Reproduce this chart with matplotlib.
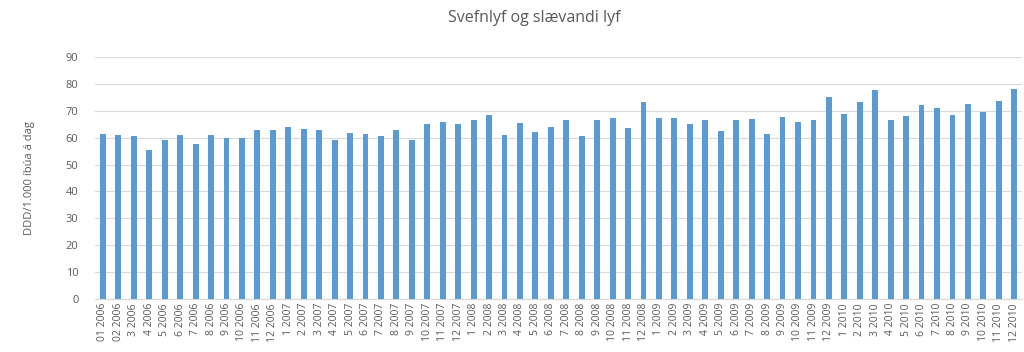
import matplotlib
matplotlib.use("Agg")
import matplotlib.pyplot as plt

plt.rcParams['font.family'] = ['Open Sans', 'DejaVu Sans']

# month labels as they appear on the axis
labels = (["01 2006", "02 2006"] + [f"{m} 2006" for m in range(3, 13)]
          + [f"{m} {y}" for y in (2007, 2008, 2009, 2010) for m in range(1, 13)])

# DDD/1.000 ibua a dag
values = [61.5, 60.8, 60.7, 55.4, 59.3, 61.0, 57.5, 61.0, 59.7, 59.7, 62.8, 62.8,
          63.9, 63.1, 62.8, 59.3, 61.7, 61.3, 60.7, 62.9, 59.3, 64.9, 66.0, 64.9,
          66.7, 68.5, 60.9, 65.6, 62.0, 63.9, 66.4, 60.7, 66.7, 67.3, 63.5, 73.4,
          67.3, 67.3, 65.2, 66.7, 62.4, 66.7, 67.1, 61.3, 67.5, 65.7, 66.7, 75.3,
          68.8, 73.2, 77.7, 66.7, 68.1, 72.0, 70.9, 68.5, 72.4, 69.7, 73.5, 78.0]

txt = "#595959"

fig = plt.figure(figsize=(10.24, 3.52), dpi=100)
ax = fig.add_axes([0.093, 0.151, 0.905, 0.687])

ax.bar(range(len(values)), values, width=0.38, color="#5B9BD5", zorder=3)

ax.set_xlim(-0.5, len(values) - 0.5)
ax.set_ylim(0, 90)
ax.set_yticks(range(0, 91, 10))
ax.set_xticks(range(len(labels)))
ax.set_xticklabels(labels, rotation=90, fontsize=7.5, color=txt)
ax.tick_params(axis="y", labelsize=8, colors=txt, length=0, pad=12)
ax.tick_params(axis="x", length=0, pad=3)
ax.grid(axis="y", color="#D9D9D9", linewidth=0.8, zorder=0)

for s in ("top", "right", "left"):
    ax.spines[s].set_visible(False)
ax.spines["bottom"].set_color("#D9D9D9")

ax.set_ylabel("DDD/1.000 íbúa á dag", fontsize=8, color=txt, labelpad=22)
fig.text(0.522, 0.95, "Svefnlyf og slævandi lyf", ha="center", va="center",
         fontsize=11.5, color=txt)

fig.savefig("out.png", dpi=100)
